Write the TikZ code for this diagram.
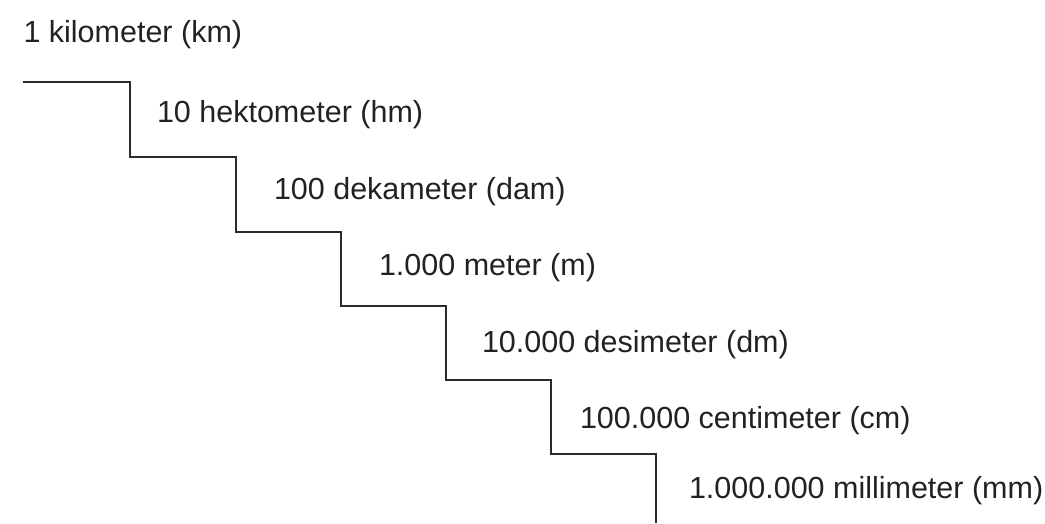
\documentclass[tikz,border=0pt]{standalone}
\usepackage{fontspec}
\setmainfont{Liberation Sans}
\definecolor{inkline}{HTML}{2B2B2B}
\definecolor{inktext}{HTML}{222222}
\begin{document}
\begin{tikzpicture}[x=1pt,y=-1pt,
  unitlabel/.style={anchor=base west,inner sep=0pt,outer sep=0pt,text=inktext,font=\fontsize{30.5}{36}\selectfont},
  stairline/.style={draw=inkline,line width=2pt,line join=miter}]
\useasboundingbox (0,0) rectangle (1045,523);
\node[unitlabel] (km)  at (23.5,42)  {1 kilometer (km)};
\node[unitlabel] (hm)  at (157,122)  {10 hektometer (hm)};
\node[unitlabel] (dam) at (274,199)  {100 dekameter (dam)};
\node[unitlabel] (m)   at (379,275)  {1.000 meter (m)};
\node[unitlabel] (dm)  at (482,352)  {10.000 desimeter (dm)};
\node[unitlabel] (cm)  at (580,428)  {100.000 centimeter (cm)};
\node[unitlabel] (mm)  at (689,498)  {1.000.000 millimeter (mm)};
\coordinate (s0) at (23,82);
\coordinate (s1) at (130,82);
\coordinate (s2) at (130,157);
\coordinate (s3) at (236,157);
\coordinate (s4) at (236,232);
\coordinate (s5) at (341,232);
\coordinate (s6) at (341,306);
\coordinate (s7) at (446,306);
\coordinate (s8) at (446,380);
\coordinate (s9) at (551,380);
\coordinate (s10) at (551,454);
\coordinate (s11) at (656,454);
\coordinate (s12) at (656,523);
\draw[stairline] (s0) -- (s1) -- (s2) -- (s3) -- (s4) -- (s5) -- (s6) -- (s7) -- (s8) -- (s9) -- (s10) -- (s11) -- (s12);
\end{tikzpicture}
\end{document}
